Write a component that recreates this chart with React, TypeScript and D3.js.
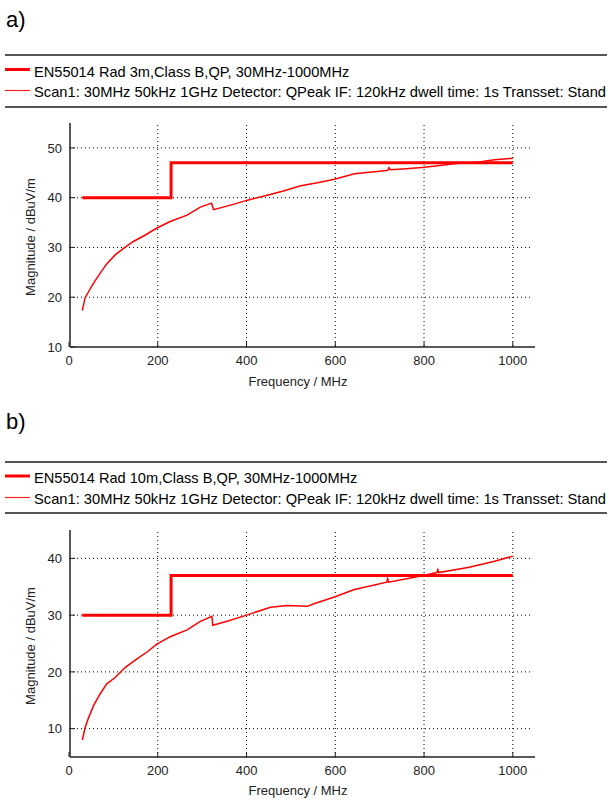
import React, { useEffect, useRef } from 'react';
import * as d3 from 'd3';

// limit lines (same frequencies for both panels)
const limitFreq = [30, 230, 230, 1000];
const limitA = [40, 40, 47, 47];
const limitB = [30, 30, 37, 37];

// scan a) 3m
const scanFreqA = [30, 36, 44, 55, 70, 85, 104, 123, 145, 172, 198, 228, 266, 296, 321, 326, 372, 402, 447, 485, 522, 560, 598, 643, 700, 718, 721, 724, 760, 801, 840, 877, 920, 959, 1000];
const scanA = [17.3, 19.8, 21.1, 22.8, 24.8, 26.7, 28.5, 29.8, 31.2, 32.5, 33.9, 35.2, 36.5, 38.1, 38.9, 37.6, 38.7, 39.5, 40.5, 41.4, 42.4, 43.0, 43.7, 44.8, 45.3, 45.5, 46.0, 45.6, 45.8, 46.1, 46.5, 46.9, 47.1, 47.6, 47.9];

// scan b) 10m
const scanFreqB = [30, 36, 44, 55, 70, 85, 104, 127, 153, 176, 198, 228, 266, 296, 322, 324, 360, 402, 454, 492, 537, 552, 598, 643, 716, 718, 720, 793, 829, 831, 833, 899, 959, 1000];
const scanB = [8.0, 10.1, 11.9, 14.0, 16.1, 17.9, 19.0, 20.8, 22.3, 23.5, 24.9, 26.2, 27.4, 28.9, 29.8, 28.2, 29.0, 30.05, 31.4, 31.7, 31.55, 32.0, 33.2, 34.5, 35.8, 36.4, 35.8, 36.9, 37.5, 38.0, 37.5, 38.4, 39.5, 40.4];

const xTicks = [0, 200, 400, 600, 800, 1000];
const legendLimitA = 'EN55014 Rad 3m,Class B,QP, 30MHz-1000MHz';
const legendLimitB = 'EN55014 Rad 10m,Class B,QP, 30MHz-1000MHz';
// the window cuts this one off at "Stand"
const legendScan = 'Scan1: 30MHz 50kHz 1GHz Detector: QPeak IF: 120kHz dwell time: 1s Transset: Stand';

const panels = [
  {
    label: 'a)', labelY: 27, rule1: 55, leg1: 76.5, leg2: 97, rule2: 107,
    yDomain: [10, 55], yRange: [347, 123], yTicks: [10, 20, 30, 40, 50],
    tickY: 365, titleY: 386, yTitleY: 237,
    legendLimit: legendLimitA, limit: limitA, scanFreq: scanFreqA, scan: scanA,
  },
  {
    label: 'b)', labelY: 429, rule1: 462, leg1: 483, leg2: 503.5, rule2: 513,
    yDomain: [5, 45], yRange: [757, 530], yTicks: [10, 20, 30, 40],
    tickY: 775, titleY: 795, yTitleY: 646,
    legendLimit: legendLimitB, limit: limitB, scanFreq: scanFreqB, scan: scanB,
  },
];

const App = () => {
  const ref = useRef<SVGSVGElement>(null);

  useEffect(() => {
    if (!ref.current) return;
    const svg = d3.select(ref.current);
    svg.selectAll('*').remove();

    const x = d3.scaleLinear().domain([0, 1050]).range([69, 535]);
    const font = 'Liberation Sans, Arial, sans-serif';
    const legendSize = 14.6;

    panels.forEach(p => {
      const y = d3.scaleLinear().domain(p.yDomain).range(p.yRange);
      const g = svg.append('g');

      g.append('text').attr('x', 6).attr('y', p.labelY)
        .attr('font-family', font).attr('font-size', 22).attr('fill', '#000')
        .text(p.label);

      // legend box
      [p.rule1, p.rule2].forEach(ry => {
        g.append('line').attr('x1', 5).attr('x2', 607).attr('y1', ry).attr('y2', ry)
          .attr('stroke', '#555').attr('stroke-width', 2);
      });
      g.append('line').attr('x1', 5).attr('x2', 30).attr('y1', p.leg1 - 7).attr('y2', p.leg1 - 7)
        .attr('stroke', 'red').attr('stroke-width', 3);
      g.append('line').attr('x1', 5).attr('x2', 30).attr('y1', Math.round(p.leg2 - 7) + 0.5).attr('y2', Math.round(p.leg2 - 7) + 0.5)
        .attr('stroke', '#ff2020').attr('stroke-width', 1.2);
      g.append('text').attr('x', 34).attr('y', p.leg1)
        .attr('font-family', font).attr('font-size', legendSize).attr('fill', '#000')
        .text(p.legendLimit);
      g.append('text').attr('x', 34).attr('y', p.leg2)
        .attr('font-family', font).attr('font-size', legendSize).attr('fill', '#000')
        .attr('textLength', 572).attr('lengthAdjust', 'spacingAndGlyphs')
        .text(legendScan);

      const [yBottom, yTop] = p.yRange;

      // grid
      xTicks.filter(t => t > 0).forEach(t => {
        g.append('line').attr('x1', x(t)).attr('x2', x(t)).attr('y1', yTop + 2).attr('y2', yBottom)
          .attr('stroke', '#000').attr('stroke-width', 1).attr('stroke-dasharray', '1,3');
      });
      p.yTicks.filter(t => y(t) < yBottom - 1).forEach(t => {
        g.append('line').attr('x1', x(0)).attr('x2', 533).attr('y1', y(t)).attr('y2', y(t))
          .attr('stroke', '#000').attr('stroke-width', 1).attr('stroke-dasharray', '1,3');
      });

      // axes
      g.append('line').attr('x1', 70).attr('x2', 70).attr('y1', yTop).attr('y2', yBottom)
        .attr('stroke', '#222').attr('stroke-width', 1.5);
      g.append('line').attr('x1', 70).attr('x2', x(1050)).attr('y1', yBottom).attr('y2', yBottom)
        .attr('stroke', '#222').attr('stroke-width', 1.5);
      xTicks.forEach(t => {
        g.append('line').attr('x1', x(t)).attr('x2', x(t)).attr('y1', yBottom).attr('y2', yBottom - 5)
          .attr('stroke', '#222').attr('stroke-width', 1);
        g.append('text').attr('x', x(t)).attr('y', p.tickY).attr('text-anchor', 'middle')
          .attr('font-family', font).attr('font-size', 13).attr('fill', '#222')
          .text(t);
      });
      p.yTicks.forEach(t => {
        g.append('line').attr('x1', 70).attr('x2', 75).attr('y1', y(t)).attr('y2', y(t))
          .attr('stroke', '#222').attr('stroke-width', 1);
        g.append('text').attr('x', 62).attr('y', y(t)).attr('dy', '0.36em').attr('text-anchor', 'end')
          .attr('font-family', font).attr('font-size', 13).attr('fill', '#222')
          .text(t);
      });
      g.append('text').attr('x', 298).attr('y', p.titleY).attr('text-anchor', 'middle')
        .attr('font-family', font).attr('font-size', 13).attr('fill', '#222')
        .text('Frequency / MHz');
      g.append('text').attr('transform', `translate(35,${p.yTitleY}) rotate(-90)`)
        .attr('text-anchor', 'middle')
        .attr('font-family', font).attr('font-size', 13).attr('fill', '#222')
        .text('Magnitude / dBuV/m');

      // scan line
      const scanLine = d3.line<number>()
        .x((d, i) => x(p.scanFreq[i]))
        .y(d => y(d));
      g.append('path').datum(p.scan)
        .attr('fill', 'none').attr('stroke', 'red').attr('stroke-width', 1.5)
        .attr('d', scanLine);

      // limit line
      const limitLine = d3.line<number>()
        .x((d, i) => x(limitFreq[i]))
        .y(d => y(d));
      g.append('path').datum(p.limit)
        .attr('fill', 'none').attr('stroke', 'red').attr('stroke-width', 3)
        .attr('d', limitLine);
    });
  }, []);

  return (
    <svg ref={ref} width={609} height={800}
      style={{ position: 'absolute', left: 0, top: 0, background: '#fff' }} />
  );
};

export default App;
